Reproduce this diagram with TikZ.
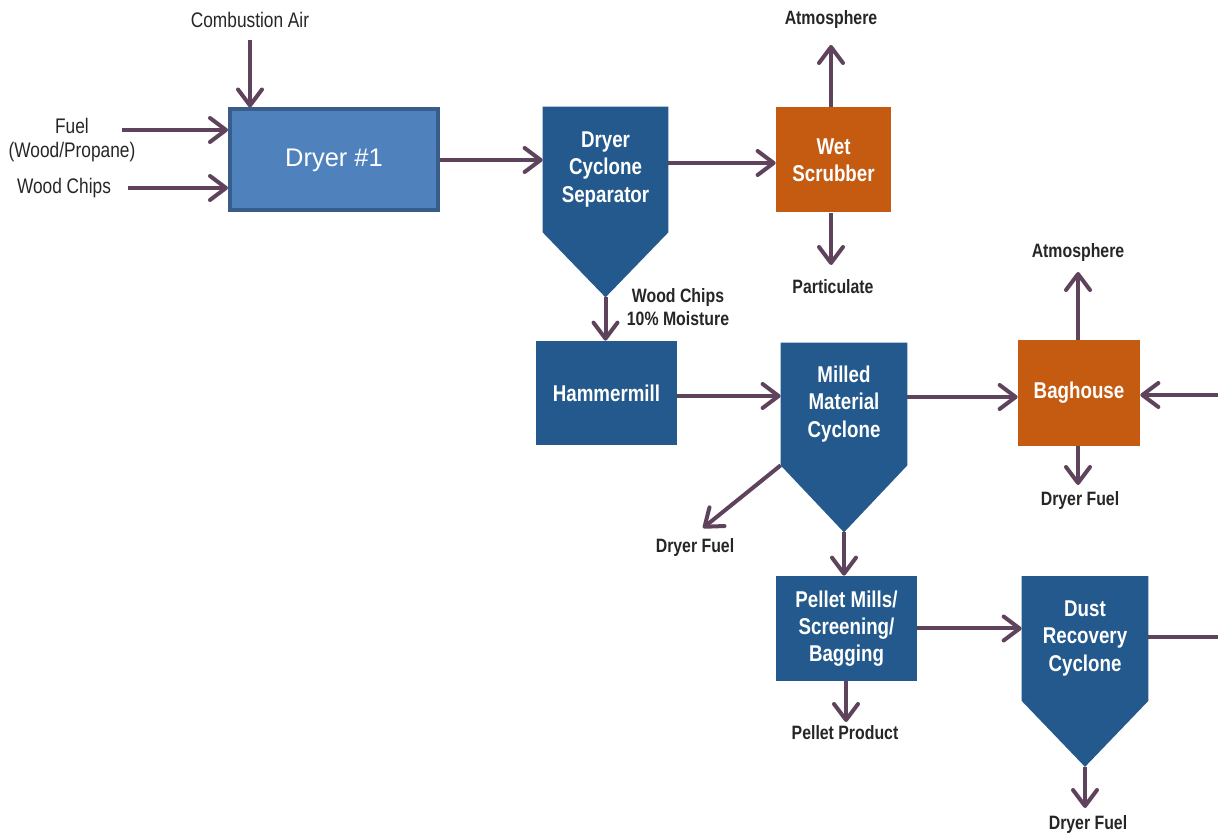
\documentclass[tikz,border=0pt]{standalone}
\usepackage{fontspec}
\setmainfont{Liberation Sans}
\newfontfamily\narrowfont{Liberation Sans}[FakeStretch=0.82]
\usetikzlibrary{arrows.meta,backgrounds}

\definecolor{cycblue}{RGB}{35,89,140}
\definecolor{dryblue}{RGB}{79,129,189}
\definecolor{dryedge}{RGB}{56,93,138}
\definecolor{scrub}{RGB}{197,90,17}
\definecolor{flowcol}{RGB}{95,66,92}

\begin{document}
\begin{tikzpicture}[x=0.2mm, y=-0.2mm,
    >={Straight Barb[length=3.2mm,width=4.8mm,round]},
    flow/.style={->, line width=0.8mm, flowcol},
    plain/.style={line width=0.8mm, flowcol},
    unit/.style={fill=cycblue, text=white, align=center, inner sep=0pt,
        font=\narrowfont\bfseries\fontsize{13}{15.5}\selectfont},
    hot/.style={unit, fill=scrub},
    tag/.style={align=center, text=black!85, inner sep=0pt,
        font=\narrowfont\bfseries\fontsize{11}{13.3}\selectfont},
    intag/.style={tag, font=\narrowfont\fontsize{12}{13.7}\selectfont}]

    \useasboundingbox (0,0) rectangle (1218,833);

    % Dryer
    \node[fill=dryblue, draw=dryedge, line width=0.8mm, text=white,
          minimum width=41.6mm, minimum height=20.2mm,
          font=\fontsize{14.5}{17}\selectfont] (dryer) at (334,160) {Dryer \#1};

    % Cyclones (body node + hopper cone behind it)
    \node[unit, minimum width=25mm, minimum height=25mm] (dcs) at (605.5,169.5)
        {Dryer\\Cyclone\\Separator};
    \path (dcs.south) ++(0,65) coordinate (dcs-tip);

    \node[unit, minimum width=25.2mm, minimum height=24.4mm] (mmc) at (844,404)
        {Milled\\Material\\Cyclone};
    \path (mmc.south) ++(0,67) coordinate (mmc-tip);

    \node[unit, minimum width=25.2mm, minimum height=24.8mm] (dust) at (1085,638.5)
        {Dust\\Recovery\\Cyclone};
    \path (dust.south) ++(0,66) coordinate (dust-tip);

    \begin{scope}[on background layer]
        \foreach \c in {dcs,mmc,dust}
            \fill[cycblue] (\c.north west) -- (\c.south west) -- (\c-tip)
                -- (\c.south east) -- (\c.north east) -- cycle;
    \end{scope}

    % Other units
    \node[hot, minimum width=23mm, minimum height=21mm] (ws) at (833.5,160) {Wet\\Scrubber};
    \node[unit, minimum width=28.2mm, minimum height=20.8mm] (hm) at (606.5,393) {Hammermill};
    \node[hot, minimum width=24.4mm, minimum height=21.2mm] (bh) at (1079,393) {Baghouse};
    \node[unit, minimum width=28.2mm, minimum height=21mm] (pm) at (846.5,628.5)
        {Pellet Mills/\\Screening/\\Bagging};

    % Stream labels
    \node[intag] (air) at (250,20) {Combustion Air};
    \node[intag] (fuel) at (72,140) {Fuel\\(Wood/Propane)};
    \node[intag] (chips) at (64,188) {Wood Chips};
    \node[tag] (atm1) at (831,20) {Atmosphere};
    \node[tag] (part) at (833,287) {Particulate};
    \node[tag] (dry chips) at (678,307) {Wood Chips\\10\% Moisture};
    \node[tag] (fuel1) at (695,548) {Dryer Fuel};
    \node[tag] (atm2) at (1078,253) {Atmosphere};
    \node[tag] (fuel2) at (1080,501) {Dryer Fuel};
    \node[tag] (prod) at (845,733) {Pellet Product};
    \node[tag] (fuel3) at (1088,824) {Dryer Fuel};

    % Free ends of streams
    \coordinate (air in) at (250,40);
    \coordinate (fuel in) at (122,130);
    \coordinate (chips in) at (128,188);
    \coordinate (atm1 out) at (831,45);
    \coordinate (part out) at (831,265);
    \coordinate (fuel1 out) at (703,528);
    \coordinate (atm2 out) at (1078,272);
    \coordinate (fuel2 out) at (1078,485);
    \coordinate (prod out) at (846,722);
    \coordinate (fuel3 out) at (1085,808);
    \coordinate (return in) at (1218,395);
    \coordinate (return out) at (1218,637);

    % Feeds
    \draw[flow] (air in) -- (air in |- dryer.north);
    \draw[flow] (fuel in) -- (fuel in -| dryer.west);
    \draw[flow] (chips in) -- (chips in -| dryer.west);

    % Main line
    \draw[flow] (dryer.east) -- (dryer.east -| dcs.west);
    \draw[flow] (dcs.east |- 0,163) -- (ws.west |- 0,163);
    \draw[flow] (dcs-tip) -- (dcs-tip |- hm.north);
    \draw[flow] (hm.east |- 0,396) -- (mmc.west |- 0,396);
    \draw[flow] (mmc.east |- 0,397) -- (bh.west |- 0,397);
    \draw[flow] (mmc-tip) -- (mmc-tip |- pm.north);
    \draw[flow] (pm.east) -- (pm.east -| dust.west);

    % Outlets
    \draw[flow] (ws.north -| atm1 out) -- (atm1 out);
    \draw[flow] (ws.south -| part out) -- (part out);
    \draw[flow] (mmc.south west) -- (fuel1 out);
    \draw[flow] (bh.north -| atm2 out) -- (atm2 out);
    \draw[flow] (bh.south -| fuel2 out) -- (fuel2 out);
    \draw[flow] (pm.south -| prod out) -- (prod out);
    \draw[flow] (dust-tip) -- (fuel3 out);

    % Dust return to baghouse
    \draw[plain] (dust.east |- return out) -- (return out);
    \draw[flow] (return in) -- (bh.east |- return in);
\end{tikzpicture}
\end{document}
